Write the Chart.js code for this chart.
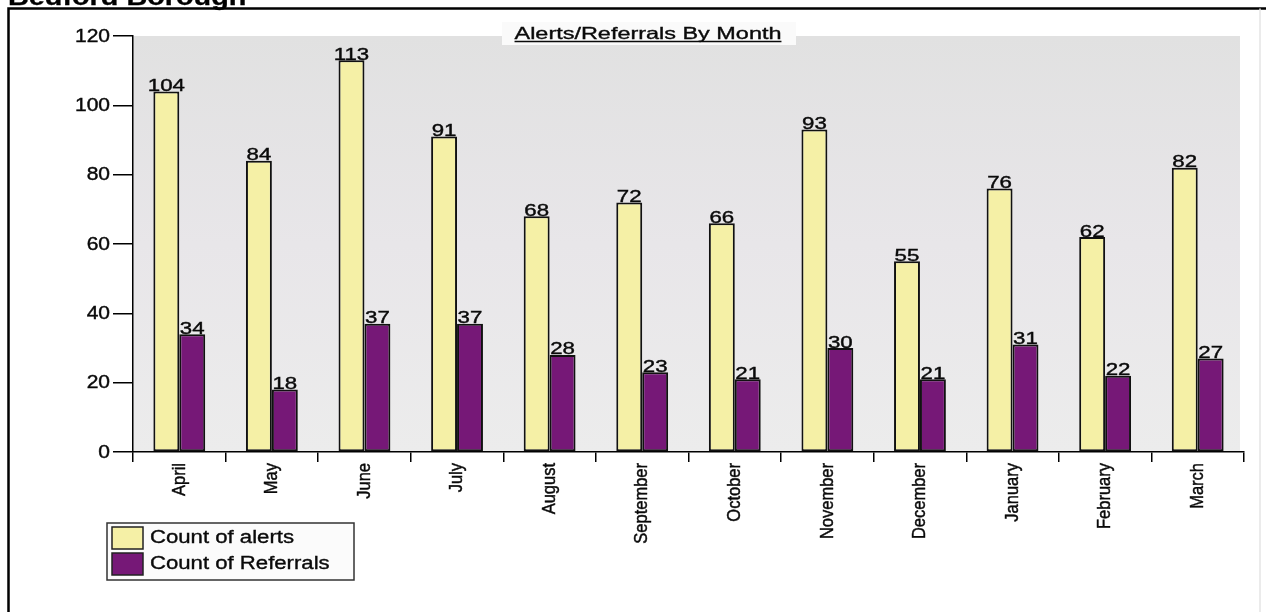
<!DOCTYPE html>
<html>
<head>
<meta charset="utf-8">
<title>Alerts/Referrals By Month</title>
<script src="https://cdn.jsdelivr.net/npm/chart.js@4.4.1/dist/chart.umd.min.js"></script>
<style>
    html, body { margin: 0; padding: 0; background: #fff; overflow: hidden; }
    #wrap { position: relative; width: 1266px; height: 612px; }
    canvas { display: block; }
</style>
</head>
<body>
<div id="wrap"><canvas id="chart" width="1266" height="612"></canvas></div>
<script>
const pageHeading = "Bedford Borough";
const chartTitle = "Alerts/Referrals By Month";
const months = ["April", "May", "June", "July", "August", "September",
                "October", "November", "December", "January", "February", "March"];
const alerts = [104, 84, 113, 91, 68, 72, 66, 93, 55, 76, 62, 82];
const referrals = [34, 18, 37, 37, 28, 23, 21, 30, 21, 31, 22, 27];
const seriesNames = ["Count of alerts", "Count of Referrals"];
const yTicks = [0, 20, 40, 60, 80, 100, 120];

const FONT = '"Liberation Sans", Arial, sans-serif';
const ALERT_FILL = "#f5f0a6";
const REFERRAL_FILL = "#761877";
const INK = "#0a0a0a";

// text drawn slightly widened, like the old report renderer
function wideText(ctx, text, x, y, sx, align, baseline) {
    ctx.save();
    ctx.translate(x, y);
    ctx.scale(sx, 1);
    ctx.textAlign = align || "left";
    ctx.textBaseline = baseline || "alphabetic";
    ctx.fillText(text, 0, 0);
    ctx.strokeText(text, 0, 0);
    ctx.restore();
}

/* ============================
   BACKGROUND, FRAME, HEADING
============================ */
const framePlugin = {
    id: "frame",
    beforeDraw(chart) {
        const { ctx, chartArea: a } = chart;
        ctx.save();
        ctx.fillStyle = "#fff";
        ctx.fillRect(0, 0, chart.width, chart.height);

        // plot panel
        const g = ctx.createLinearGradient(0, a.top, 0, a.bottom);
        g.addColorStop(0, "#e1e1e1");
        g.addColorStop(0.5, "#e8e6e9");
        g.addColorStop(1, "#ececec");
        ctx.fillStyle = g;
        ctx.fillRect(a.left, a.top, a.right - a.left - 4, a.bottom - a.top);

        // title box + underlined title
        ctx.fillStyle = "#fafafa";
        ctx.fillRect(502, 22, 294, 23);
        ctx.fillStyle = INK;
        ctx.strokeStyle = INK;
        ctx.lineWidth = 0.35;
        ctx.font = "16.5px " + FONT;
        const tw = ctx.measureText(chartTitle).width * 1.42;
        const tx = 648;
        wideText(ctx, chartTitle, tx, 39, 1.42, "center");
        ctx.lineWidth = 1.3;
        ctx.beginPath();
        ctx.moveTo(tx - tw / 2, 41.5);
        ctx.lineTo(tx + tw / 2, 41.5);
        ctx.stroke();

        // outer frame
        ctx.strokeStyle = "#000";
        ctx.lineWidth = 2.5;
        ctx.beginPath();
        ctx.moveTo(8.5, 640);
        ctx.lineTo(8.5, 8.5);
        ctx.lineTo(1266, 8.5);
        ctx.stroke();
        ctx.strokeStyle = "#e4e4e4";
        ctx.lineWidth = 1.5;
        ctx.beginPath();
        ctx.moveTo(1260, 8.5);
        ctx.lineTo(1260, 612);
        ctx.stroke();

        // page heading, mostly cut off at the top
        ctx.fillStyle = "#000";
        ctx.strokeStyle = "#000";
        ctx.lineWidth = 0.3;
        ctx.font = "bold 24px " + FONT;
        wideText(ctx, pageHeading, 8, 5, 1.2, "left");
        ctx.restore();
    }
};

/* ============================
   TICK LABELS, VALUES, LEGEND
============================ */
const labelPlugin = {
    id: "labels",
    afterDraw(chart) {
        const { ctx } = chart;
        const xs = chart.scales.x;
        const ys = chart.scales.y;
        ctx.save();
        ctx.fillStyle = INK;
        ctx.strokeStyle = INK;
        ctx.lineWidth = 0.4;

        // value axis labels
        ctx.font = "17.5px " + FONT;
        yTicks.forEach(v => {
            wideText(ctx, String(v), 110, ys.getPixelForValue(v) + 1, 1.2, "right", "middle");
        });

        // month labels, reading upwards
        ctx.font = "16.5px " + FONT;
        months.forEach((m, i) => {
            ctx.save();
            ctx.translate(xs.getPixelForTick(i), 463);
            ctx.rotate(-Math.PI / 2);
            ctx.scale(1, 1.15);
            ctx.textAlign = "right";
            ctx.textBaseline = "middle";
            ctx.fillText(m, 0, 0);
            ctx.strokeText(m, 0, 0);
            ctx.restore();
        });

        // values above bars
        ctx.font = "16.5px " + FONT;
        chart.data.datasets.forEach((ds, di) => {
            chart.getDatasetMeta(di).data.forEach((bar, i) => {
                wideText(ctx, String(ds.data[i]), bar.x, bar.y - 0.5, 1.35, "center");
            });
        });

        // legend
        ctx.fillStyle = "#fbfbfb";
        ctx.fillRect(107, 523, 247, 57);
        ctx.strokeStyle = "#333";
        ctx.lineWidth = 1.5;
        ctx.strokeRect(107, 523, 247, 57);
        const fills = [ALERT_FILL, REFERRAL_FILL];
        seriesNames.forEach((name, i) => {
            const top = 527 + i * 26;
            ctx.fillStyle = fills[i];
            ctx.fillRect(112, top, 31, 22);
            ctx.strokeStyle = "#222";
            ctx.lineWidth = 1.5;
            ctx.strokeRect(112, top, 31, 22);
            ctx.fillStyle = INK;
            ctx.strokeStyle = INK;
            ctx.lineWidth = 0.35;
            ctx.font = "18px " + FONT;
            wideText(ctx, name, 150, top + 16, 1.23, "left");
        });
        ctx.restore();
    }
};

new Chart(document.getElementById("chart"), {
    type: "bar",
    data: {
        labels: months,
        datasets: [
            {
                label: seriesNames[0],
                data: alerts,
                backgroundColor: ALERT_FILL,
                borderColor: "#111",
                borderWidth: 2,
                borderSkipped: false,
                barPercentage: 1,
                categoryPercentage: 0.56
            },
            {
                label: seriesNames[1],
                data: referrals,
                backgroundColor: REFERRAL_FILL,
                borderColor: "#111",
                borderWidth: 2,
                borderSkipped: false,
                barPercentage: 1,
                categoryPercentage: 0.56
            }
        ]
    },
    options: {
        responsive: false,
        animation: false,
        devicePixelRatio: 1,
        layout: { padding: { left: 113, right: 22, top: 36, bottom: 150 } },
        plugins: { legend: { display: false }, tooltip: { enabled: false }, title: { display: false } },
        scales: {
            x: {
                offset: true,
                ticks: { display: false },
                grid: { drawOnChartArea: false, drawTicks: true, tickLength: 10, color: "#000", lineWidth: 1.5 },
                border: { display: true, color: "#000", width: 1.5 },
                afterFit: s => { s.height = 10; }
            },
            y: {
                min: 0,
                max: 120,
                ticks: { display: false, stepSize: 20 },
                grid: { drawOnChartArea: false, drawTicks: true, tickLength: 20, color: "#000", lineWidth: 1.5 },
                border: { display: true, color: "#000", width: 1.5 },
                afterFit: s => { s.width = 20; }
            }
        }
    },
    plugins: [framePlugin, labelPlugin]
});
</script>
</body>
</html>
